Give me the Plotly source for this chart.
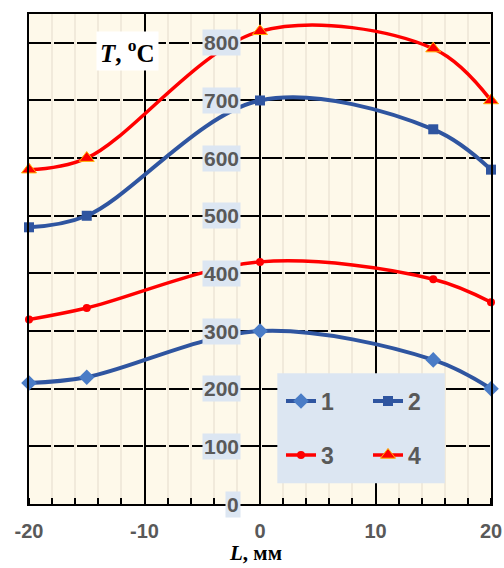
import plotly.graph_objects as go

# ---- data ----
L_mm = [-20, -15, 0, 15, 20]
T1 = [210, 220, 300, 250, 200]
T2 = [480, 500, 700, 650, 580]
T3 = [320, 340, 420, 390, 350]
T4 = [580, 600, 820, 790, 700]
series_names = ["1", "2", "3", "4"]
x_tick_vals = [-20, -10, 0, 10, 20]
y_tick_vals = [0, 100, 200, 300, 400, 500, 600, 700, 800]

W, H = 504, 568
ML, MR, MT, MB = 29, 13, 14, 64
PW = W - ML - MR
PH = H - MT - MB

# dash pattern for horizontal grid (gaps where faint minor verticals cross)
step = PW / 20.0
gap = 3.0
parts = [f"{step - gap/2:.2f}px", f"{gap:.2f}px"]
for _ in range(19):
    parts += [f"{step - gap:.2f}px", f"{gap:.2f}px"]
parts += [f"{step:.2f}px", "0px"]
griddash = ",".join(parts)

BLUE = "#2f55a0"
RED = "#ff0000"
TICKCOL = "#595959"
SANS = "Liberation Sans, Arial, sans-serif"
SERIF = "Liberation Serif, Times New Roman, serif"


def px_x(p):
    return (p - ML) / PW


def px_y(p):
    return (H - MB - p) / PH


fig = go.Figure()
fig.add_trace(go.Scatter(x=L_mm, y=T1, name=series_names[0], mode="lines+markers",
                         line=dict(color=BLUE, width=4, shape="spline"),
                         marker=dict(symbol="diamond", size=12, color="#4a7cc6"),
                         cliponaxis=False, legend="legend"))
fig.add_trace(go.Scatter(x=L_mm, y=T2, name=series_names[1], mode="lines+markers",
                         line=dict(color=BLUE, width=4, shape="spline"),
                         marker=dict(symbol="square", size=10, color=BLUE),
                         cliponaxis=False, legend="legend"))
fig.add_trace(go.Scatter(x=L_mm, y=T3, name=series_names[2], mode="lines+markers",
                         line=dict(color=RED, width=3.5, shape="spline"),
                         marker=dict(symbol="circle", size=8, color=RED),
                         cliponaxis=False, legend="legend2"))
fig.add_trace(go.Scatter(x=L_mm, y=T4, name=series_names[3], mode="lines+markers",
                         line=dict(color=RED, width=3.5, shape="spline"),
                         marker=dict(symbol="triangle-up", size=13, color=RED,
                                     line=dict(color="#ffb000", width=1)),
                         cliponaxis=False, legend="legend2"))

# legend background box
fig.add_shape(type="rect", xref="x", yref="y", x0=1.5, x1=16, y0=36, y1=227,
              fillcolor="#dce6f2", line=dict(width=0), layer="above")

# y tick labels next to the x=0 line
for v in y_tick_vals:
    fig.add_annotation(x=0, y=v, xref="x", yref="y", text=f"<b>{v}</b>",
                       showarrow=False, xanchor="right", xshift=-19,
                       font=dict(family=SANS, size=21, color=TICKCOL),
                       bgcolor="#dce6f2", borderpad=1)

# axis titles
fig.add_annotation(x=px_x(127), y=px_y(51), xref="paper", yref="paper",
                   text="<b><i>T</i>, <sup>o</sup>C</b>", showarrow=False,
                   xanchor="center", yanchor="middle",
                   font=dict(family=SERIF, size=25, color="black"),
                   bgcolor="white", borderpad=3)
fig.add_annotation(x=px_x(255), y=px_y(553), xref="paper", yref="paper",
                   text="<b><i>L</i>, мм</b>", showarrow=False,
                   xanchor="center", yanchor="middle",
                   font=dict(family=SERIF, size=21, color="black"))

fig.update_layout(
    width=W, height=H,
    margin=dict(l=ML, r=MR, t=MT, b=MB, autoexpand=False),
    paper_bgcolor="white", plot_bgcolor="#fef9ea",
    xaxis=dict(range=[-20, 20], tickvals=x_tick_vals, ticktext=[str(v) for v in x_tick_vals],
               showgrid=True, gridcolor="black", gridwidth=2, zeroline=False,
               showline=True, mirror=True, linecolor="black", linewidth=2,
               ticks="", ticklabelstandoff=8,
               tickfont=dict(family=SANS, size=20, color=TICKCOL, weight="bold"),
               minor=dict(dtick=2, tick0=0, showgrid=True, gridcolor="#f1eadb", gridwidth=2,
                          ticks="inside", ticklen=6, tickcolor="black", tickwidth=2)),
    yaxis=dict(range=[0, 850], tick0=0, dtick=100, showgrid=True, gridcolor="black",
               gridwidth=2, griddash=griddash, zeroline=False, showticklabels=False,
               ticks="", showline=True, mirror=True, linecolor="black", linewidth=2),
    legend=dict(orientation="h", x=px_x(281), xanchor="left",
                y=px_y(401), yanchor="middle", bgcolor="rgba(0,0,0,0)",
                entrywidth=42, font=dict(family=SANS, size=23, color=TICKCOL, weight="bold")),
    legend2=dict(orientation="h", x=px_x(281), xanchor="left",
                 y=px_y(455), yanchor="middle", bgcolor="rgba(0,0,0,0)",
                 entrywidth=42, font=dict(family=SANS, size=23, color=TICKCOL, weight="bold")),
    showlegend=True,
)

fig.write_html("out.html")
